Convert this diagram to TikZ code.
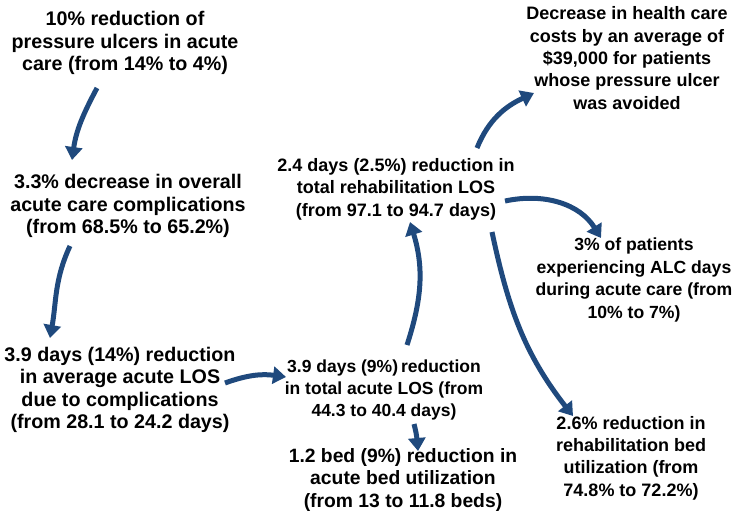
\documentclass[tikz,border=0pt]{standalone}
\usepackage{fontspec}
\setmainfont{Liberation Sans}
\usetikzlibrary{arrows.meta}
\definecolor{flowblue}{RGB}{31,73,125}
\begin{document}
\begin{tikzpicture}[
    x=1pt, y=-1pt,
    outcome/.style={align=center, inner sep=0pt, font=\bfseries\fontsize{19.7}{22.5}\selectfont},
    small outcome/.style={outcome, font=\bfseries\fontsize{18}{22.4}\selectfont},
    flow/.style={draw=flowblue, line width=5pt, -{Triangle[length=13pt, width=17pt]}}
]
    \useasboundingbox (0,0) rectangle (747,523);

    \node[outcome] (ulcer) at (125,43) {10\% reduction of\\pressure ulcers in acute\\care (from 14\% to 4\%)};
    \node[outcome] (compl) at (128,206) {3.3\% decrease in overall\\acute care complications\\(from 68.5\% to 65.2\%)};
    \node[outcome] (avglos) at (120,390) {3.9 days (14\%) reduction\\in average acute LOS\\due to complications\\(from 28.1 to 24.2 days)};
    \node[small outcome, font=\bfseries\fontsize{17.5}{22}\selectfont] (totlos) at (384,390) {3.9 days (9\%)\,reduction\\in total acute LOS (from\\44.3 to 40.4 days)};
    \node[outcome, font=\bfseries\fontsize{19.3}{22.5}\selectfont] (bed) at (403,480) {1.2 bed (9\%) reduction in\\acute bed utilization\\(from 13 to 11.8 beds)};
    \node[small outcome] (rehab) at (396,189) {2.4 days (2.5\%) reduction in\\total rehabilitation LOS\\(from 97.1 to 94.7 days)};
    \node[small outcome] (cost) at (627,58) {Decrease in health care\\costs by an average of\\\$39,000 for patients\\whose pressure ulcer\\was avoided};
    \node[small outcome, font=\bfseries\fontsize{17.6}{22.4}\selectfont] (alc) at (634,280) {3\% of patients\\experiencing ALC days\\during acute care (from\\10\% to 7\%)};
    \node[small outcome] (rbed) at (631,458) {2.6\% reduction in\\rehabilitation bed\\utilization (from\\74.8\% to 72.2\%)};

    % arrow ends
    \coordinate (ulcer-out) at (97,88);
    \coordinate (compl-in) at (72,160);
    \coordinate (compl-out) at (70,246);
    \coordinate (avglos-in) at (50,338);
    \coordinate (avglos-out) at (225,383);
    \coordinate (totlos-in) at (286,377);
    \coordinate (totlos-up) at (407,345);
    \coordinate (rehab-in) at (410,222);
    \coordinate (totlos-down) at (414,424);
    \coordinate (bed-in) at (418,451);
    \coordinate (rehab-up) at (477,148);
    \coordinate (cost-in) at (534,93);
    \coordinate (rehab-right) at (505,201);
    \coordinate (alc-in) at (601,238);
    \coordinate (rehab-down) at (492,232);
    \coordinate (rbed-in) at (573,416);

    \draw[flow] (ulcer-out) to[out=242, in=82] (compl-in);
    \draw[flow] (compl-out) to[out=245, in=80] (avglos-in);
    \draw[flow] (avglos-out) to[out=20, in=172] (totlos-in);
    \draw[flow] (totlos-up) to[out=72, in=287] (rehab-in);
    \draw[flow] (totlos-down) to[out=285, in=95] (bed-in);
    \draw[flow] (rehab-up) to[out=68, in=205] (cost-in);
    \draw[flow] (rehab-right) to[out=12, in=122] (alc-in);
    \draw[flow] (rehab-down) to[out=282, in=128] (rbed-in);
\end{tikzpicture}
\end{document}
